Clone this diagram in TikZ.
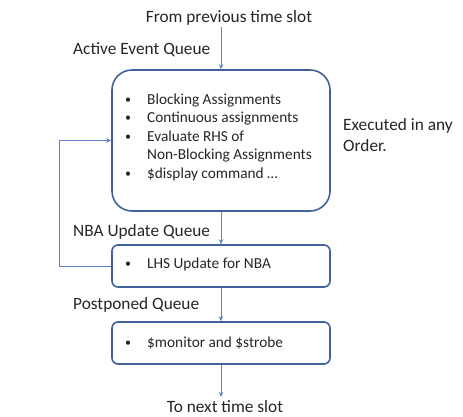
\documentclass[tikz,border=0pt]{standalone}
\usepackage{fontspec}
\setmainfont{Carlito}
\usetikzlibrary{arrows.meta}
\definecolor{boxblue}{HTML}{41619E}
\definecolor{arrblue}{HTML}{5B84C8}
\definecolor{txt}{HTML}{262626}
\begin{document}
\begin{tikzpicture}[x=1pt,y=-1pt,
  box/.style={draw=boxblue, line width=1.6pt, rounded corners=#1, inner sep=0pt, minimum width=218pt},
  lbl/.style={anchor=base west, inner sep=0pt, font=\fontsize{17.3}{19}\selectfont, text=txt},
  ctr/.style={anchor=base, inner sep=0pt, font=\fontsize{17.3}{19}\selectfont, text=txt},
  itm/.style={anchor=base west, inner sep=0pt, font=\fontsize{15.3}{18.3}\selectfont, text=txt},
  bul/.style={anchor=base, inner sep=0pt, font=\fontsize{12}{14}\selectfont, text=txt},
  flow/.style={draw=arrblue, line width=0.8pt, -{Stealth[length=5pt,width=4.5pt]}}]
\useasboundingbox (0,0) rectangle (463,417);
\fill[white] (0,0) rectangle (463,417);
% boxes
\node[box=20pt, minimum height=141pt] (active) at (221,140.5) {};
\node[box=6pt, minimum height=42pt] (nba) at (221,266) {};
\node[box=6pt, minimum height=42pt] (post) at (221,343) {};
% outside labels
\node[ctr] (from) at (229,23) {From previous time slot};
\node[lbl] (aeq) at (73,55) {Active Event Queue};
\node[lbl] (nbaq) at (73,236) {NBA Update Queue};
\node[lbl] (pq) at (73,309) {Postponed Queue};
\node[ctr] (to) at (225,412) {To next time slot};
\node[lbl] (exec1) at (343,131) {Executed in any};
\node[lbl] (exec2) at (343,151) {Order.};
% active box contents
\node[bul] (b1) at (128,104) {\textbullet};
\node[itm] (t1) at (147,105) {Blocking Assignments};
\node[bul] (b2) at (128,122) {\textbullet};
\node[itm] (t2) at (147,123) {Continuous assignments};
\node[bul] (b3) at (128,140.5) {\textbullet};
\node[itm] (t3) at (147,141.5) {Evaluate RHS of};
\node[itm] (t4) at (147,160) {Non-Blocking Assignments};
\node[bul] (b5) at (128,177) {\textbullet};
\node[itm] (t5) at (147,178) {\$display command …};
% nba box contents
\node[bul] (b6) at (128,267) {\textbullet};
\node[itm] (t6) at (147,268) {LHS Update for NBA};
% postponed contents
\node[bul] (b7) at (128,346) {\textbullet};
\node[itm] (t7) at (147,347) {\$monitor and \$strobe};
% connectors
\coordinate (src) at (221,27);
\coordinate (dst) at (221,397);
\coordinate (loop) at (59,266);
\draw[flow] (src) -- (active.north);
\draw[flow] (active.south) -- (nba.north);
\draw[flow] (nba.south) -- (post.north);
\draw[flow] (post.south) -- (dst);
\draw[flow] (nba.west) -- (loop) |- (active.west);
\end{tikzpicture}
\end{document}
